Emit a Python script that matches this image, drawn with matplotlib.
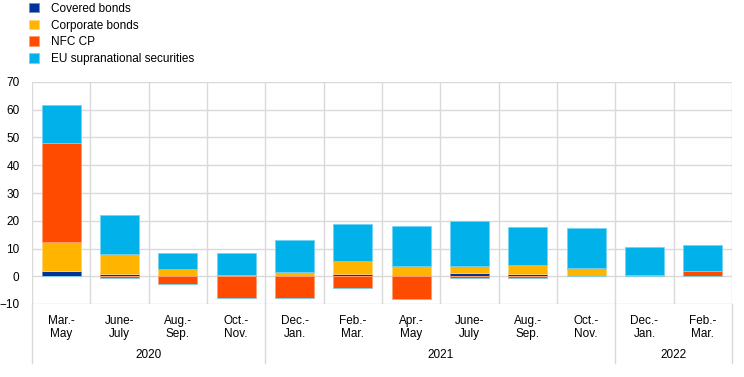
import matplotlib
matplotlib.use("Agg")
import matplotlib.pyplot as plt
import matplotlib.colors as mcolors
import numpy as np

plt.rcParams['font.family'] = ['Liberation Sans', 'DejaVu Sans']

periods = ["Mar.-\nMay", "June-\nJuly", "Aug.-\nSep.", "Oct.-\nNov.", "Dec.-\nJan.", "Feb.-\nMar.",
           "Apr.-\nMay", "June-\nJuly", "Aug.-\nSep.", "Oct.-\nNov.", "Dec.-\nJan.", "Feb.-\nMar."]
years = ["2020", "2021", "2022"]
year_counts = [4, 6, 2]

series_names = ["Covered bonds", "Corporate bonds", "NFC CP", "EU supranational securities"]
covered = [1.9, 0.8, 0.2, 0.0, 0.0, 0.7, 0.2, 1.2, 0.7, 0.0, 0.0, 0.2]
corporate = [10.6, 7.2, 2.3, 0.3, 1.6, 4.9, 3.6, 2.6, 3.5, 2.5, 0.3, 0.0]
nfc_cp = [35.4, -0.6, -2.9, -7.9, -7.8, -4.1, -8.3, -0.6, -0.5, 0.6, 0.0, 1.6]
eu_supra = [13.9, 14.0, 5.9, 8.1, 11.6, 13.2, 14.4, 16.2, 13.6, 14.4, 10.1, 9.6]

colors = ["#003299", "#FFB400", "#FF4B00", "#00B1EA"]

fs = 8.5
fig = plt.figure(figsize=(7.44, 3.77), dpi=100)
ax = fig.add_axes([32/744, 1-304/377, 700/744, (304-82)/377])

data = [covered, corporate, nfc_cp, eu_supra]
x = np.arange(len(periods))
pos_base = np.zeros(len(periods))
neg_base = np.zeros(len(periods))
handles = []
for vals, col, name in zip(data, colors, series_names):
    v = np.array(vals, dtype=float)
    p = np.where(v > 0, v, 0)
    n = np.where(v < 0, v, 0)
    light = tuple(0.55*np.array(mcolors.to_rgb(col)) + 0.45)
    b = ax.bar(x, p, bottom=pos_base, width=0.67, color=col, edgecolor=light, linewidth=0.6, zorder=3, label=name)
    ax.bar(x, n, bottom=neg_base, width=0.67, color=col, edgecolor=light, linewidth=0.6, zorder=3)
    pos_base += p
    neg_base += n
    handles.append(b)

ax.set_xlim(-0.5, len(periods)-0.5)
ax.set_ylim(-10, 70)
ax.set_yticks(range(-10, 71, 10))
ax.tick_params(axis='y', length=0, labelsize=fs, pad=9)
ax.set_xticks(x)
ax.set_xticklabels(periods, fontsize=fs, linespacing=1.15)
ax.tick_params(axis='x', length=0, pad=8)

grid_c = "#d9d9d9"
for yv in range(-10, 71, 10):
    ax.axhline(yv, color=grid_c, linewidth=1, zorder=1)
for i in range(len(periods)+1):
    ax.axvline(i-0.5, color=grid_c, linewidth=1, zorder=1)
for s in ax.spines.values():
    s.set_visible(False)

# year separators and labels below axis
bounds = np.concatenate([[0], np.cumsum(year_counts)]) - 0.5
trans = ax.get_xaxis_transform()
ext = -(363-304)/222
for bnd in bounds:
    ax.plot([bnd, bnd], [0, ext], transform=trans, color=grid_c, linewidth=1, clip_on=False, zorder=1)
for i, yr in enumerate(years):
    mid = (bounds[i] + bounds[i+1]) / 2
    ax.text(mid, -(355-304)/222, yr, transform=trans, ha='center', va='center', fontsize=fs)

leg = fig.legend(handles=handles, loc='upper left', bbox_to_anchor=(24/744, 1.0 + 2.5/377), frameon=False,
                 fontsize=fs, handlelength=0.85, handleheight=0.85, handletextpad=0.95, labelspacing=0.4,
                 borderaxespad=0.05)

fig.savefig("out.png", dpi=100)
